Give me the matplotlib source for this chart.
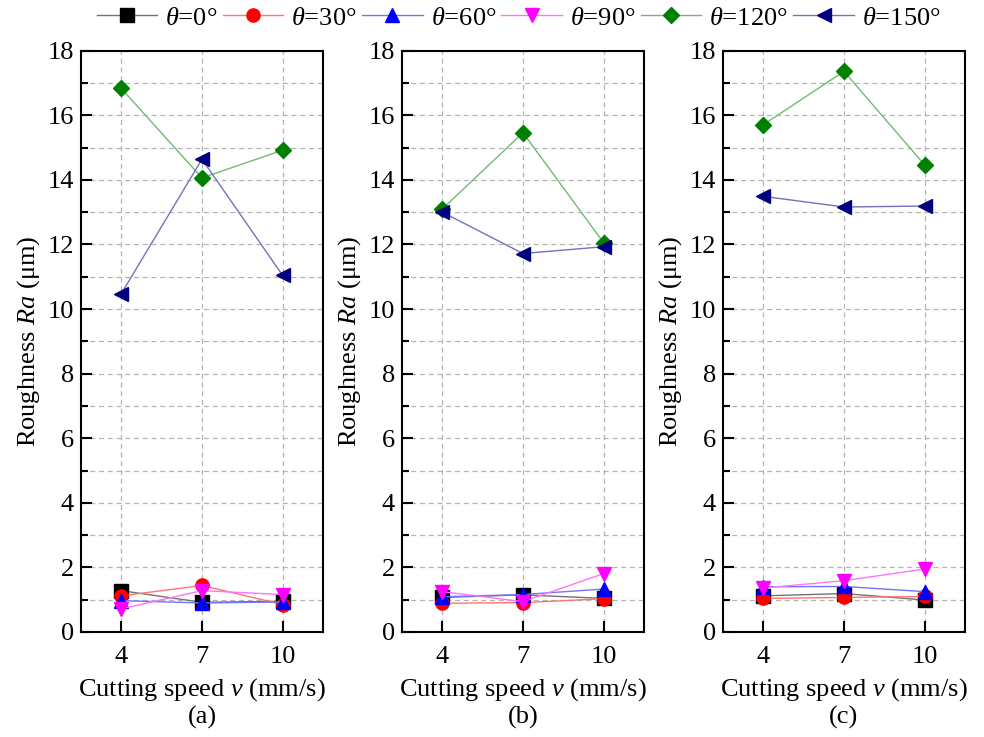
import numpy as np
import matplotlib
matplotlib.use("Agg")
import matplotlib.pyplot as plt
from matplotlib.colors import to_rgb
from matplotlib.ticker import MultipleLocator

plt.rcParams['font.family'] = ['Liberation Serif', 'DejaVu Serif']
plt.rcParams['mathtext.fontset'] = 'custom'
plt.rcParams['mathtext.rm'] = 'Liberation Serif'
plt.rcParams['mathtext.it'] = 'Liberation Serif:italic'

speed = [4, 7, 10]
angles = ['0', '30', '60', '90', '120', '150']
colors = ['#000000', '#ff0000', '#0000ff', '#ff00ff', '#008000', '#000080']
markers = ['s', 'o', '^', 'v', 'D', '<']

# Ra values, one list per angle, per panel
ra_a = [[1.28, 0.92, 0.95],
        [1.12, 1.44, 0.85],
        [0.97, 0.90, 0.93],
        [0.72, 1.28, 1.16],
        [16.83, 14.06, 14.92],
        [10.48, 14.64, 11.04]]
ra_b = [[1.07, 1.15, 1.04],
        [0.89, 0.91, 1.03],
        [1.09, 1.16, 1.33],
        [1.25, 0.94, 1.81],
        [13.10, 15.46, 12.05],
        [13.00, 11.72, 11.93]]
ra_c = [[1.12, 1.19, 0.99],
        [1.04, 1.07, 1.10],
        [1.40, 1.41, 1.25],
        [1.36, 1.59, 1.95],
        [15.71, 17.36, 14.46],
        [13.49, 13.16, 13.19]]
panels = [ra_a, ra_b, ra_c]
sublabels = ['(a)', '(b)', '(c)']
fs = 19


def lighten(c, f=0.45):
    r, g, b = to_rgb(c)
    return (r + (1 - r) * f, g + (1 - g) * f, b + (1 - b) * f)


fig = plt.figure(figsize=(9.84, 7.37), dpi=100)
lefts = [81/984, 402/984, 723/984]
w = 242/984
bot = 1 - 632/737
h = (632 - 50.7)/737

for k in range(3):
    ax = fig.add_axes([lefts[k], bot, w, h])
    for i in range(6):
        ax.plot(speed, panels[k][i], color=lighten(colors[i]), lw=1.0,
                marker=markers[i], ms=9.5 if markers[i] != 'D' else 8,
                mfc=colors[i], mec=colors[i],
                label=r'$\theta$=' + angles[i] + '°', zorder=3)
    ax.set_xlim(2.5, 11.5)
    ax.set_ylim(0, 18)
    ax.set_xticks(speed)
    ax.yaxis.set_major_locator(MultipleLocator(2))
    ax.yaxis.set_minor_locator(MultipleLocator(1))
    ax.grid(True, which='both', axis='y', color='#b4b4b4', ls=(0, (4, 3)), lw=0.9)
    ax.grid(True, which='major', axis='x', color='#b4b4b4', ls=(0, (4, 3)), lw=0.9)
    ax.tick_params(direction='in', which='major', length=8, width=1.5, labelsize=fs)
    ax.tick_params(direction='in', which='minor', length=5, width=1.5)
    ax.tick_params(axis='x', pad=10)
    ax.tick_params(axis='y', pad=5)
    for s in ax.spines.values():
        s.set_linewidth(1.5)
    ax.set_xlabel(r'Cutting speed $\it{v}$ (mm/s)', fontsize=fs, labelpad=6)
    ax.set_ylabel(r'Roughness $\it{Ra}$ (μm)', fontsize=fs, labelpad=4)
    fig.text(lefts[k] + w/2, 1 - 717/737, sublabels[k], ha='center', va='center', fontsize=fs)
    if k == 0:
        handles, labels = ax.get_legend_handles_labels()

fig.legend(handles, labels, loc='center', bbox_to_anchor=(0.527, 1 - 18/737), ncol=6,
           frameon=False, fontsize=fs, handlelength=2.3, handletextpad=0.3,
           columnspacing=0.2, borderaxespad=0)

fig.savefig('out.png', dpi=100)
